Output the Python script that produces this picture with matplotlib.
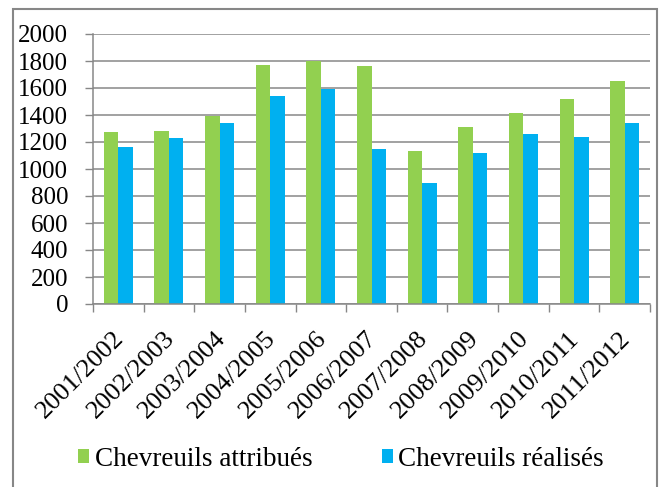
import matplotlib.pyplot as plt
from matplotlib.patches import Rectangle
from matplotlib.transforms import ScaledTranslation
import numpy as np

# saisons et effectifs
seasons = ["2001/2002", "2002/2003", "2003/2004", "2004/2005", "2005/2006", "2006/2007",
           "2007/2008", "2008/2009", "2009/2010", "2010/2011", "2011/2012"]
attribues = [1272, 1281, 1390, 1768, 1798, 1763, 1133, 1311, 1412, 1516, 1654]
realises = [1160, 1230, 1338, 1541, 1593, 1148, 899, 1119, 1257, 1237, 1343]
yticks = [0, 200, 400, 600, 800, 1000, 1200, 1400, 1600, 1800, 2000]

greenColor = "#92D050"
blueColor = "#00B0F0"
gridColor = "#878787"

plt.rcParams['font.family'] = ['Liberation Serif', 'DejaVu Serif']

fig = plt.figure(figsize = (6.61, 4.87), dpi = 100)
ax = fig.add_axes([93 / 661, 1 - 304 / 487, (650 - 93) / 661, (304 - 34) / 487])

x = np.arange(len(seasons))
barWidth = 0.286
ax.bar(x - barWidth / 2, attribues, barWidth, color = greenColor, label = "Chevreuils attribués", zorder = 3)
ax.bar(x + barWidth / 2, realises, barWidth, color = blueColor, label = "Chevreuils réalisés", zorder = 3)

ax.set_xlim(-0.5, len(seasons) - 0.5)
ax.set_ylim(0, 2000)
ax.set_yticks(yticks)
ax.tick_params(axis = "y", labelsize = 18, length = 5.8, width = 1, color = gridColor, pad = 12)
ax.grid(axis = "y", color = gridColor, linewidth = 1.1, zorder = 0)

# labels at category centres, tick marks at category boundaries
ax.set_xticks(x)
ax.set_xticklabels(seasons, rotation = 45, ha = "right", rotation_mode = "anchor", fontsize = 19)
ax.tick_params(axis = "x", which = "major", length = 0, pad = 17)
shift = ScaledTranslation(-4 / 72, 0, fig.dpi_scale_trans)
for lbl in ax.get_xticklabels():
    lbl.set_transform(lbl.get_transform() + shift)
ax.set_xticks(np.arange(len(seasons) + 1) - 0.5, minor = True)
ax.tick_params(axis = "x", which = "minor", length = 5.8, width = 1, color = gridColor)

for side in ["top", "right"]:
    ax.spines[side].set_visible(False)
for side in ["left", "bottom"]:
    ax.spines[side].set_color(gridColor)
    ax.spines[side].set_linewidth(1.1)
    ax.spines[side].set_zorder(4)

handles, labels = ax.get_legend_handles_labels()
fig.legend(handles, labels, loc = "center", bbox_to_anchor = (341 / 661, 1 - 459 / 487), ncol = 2,
           frameon = False, fontsize = 19.5, handlelength = 0.42, handleheight = 0.42,
           handletextpad = 0.2, columnspacing = 2.55, borderaxespad = 0)

# chart border (bottom edge runs off the picture)
fig.patches.append(Rectangle((13 / 661, -0.05), (657 - 13) / 661, 1.05 - 9 / 487,
                             transform = fig.transFigure, fill = False, edgecolor = gridColor, linewidth = 1.5))

fig.savefig("out.png", dpi = 100)
